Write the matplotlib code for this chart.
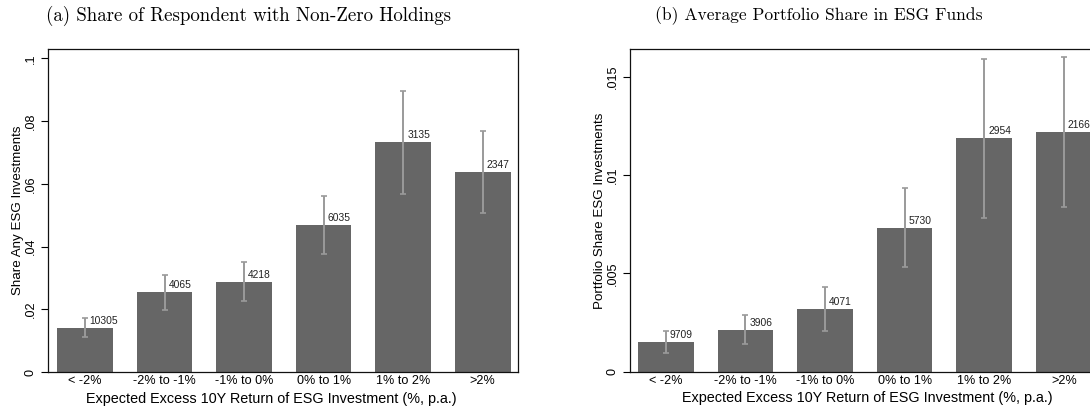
import matplotlib
matplotlib.use("Agg")
import matplotlib.pyplot as plt
from matplotlib.ticker import FixedLocator, FixedFormatter

# Return-expectation buckets
categories = ["< -2%", "-2% to -1%", "-1% to 0%", "0% to 1%", "1% to 2%", ">2%"]

# Panel (a): share of respondents with any ESG holdings
share_any = [0.0141, 0.0255, 0.0287, 0.0469, 0.0733, 0.0638]
share_any_lo = [0.0113, 0.0198, 0.0225, 0.0376, 0.0568, 0.0508]
share_any_hi = [0.0171, 0.0310, 0.0351, 0.0562, 0.0896, 0.0767]
n_any = [10305, 4065, 4218, 6035, 3135, 2347]
yticks_a = [0, 0.02, 0.04, 0.06, 0.08, 0.1]
yticklabels_a = ["0", ".02", ".04", ".06", ".08", ".1"]

# Panel (b): average portfolio share in ESG funds
port_share = [0.00151, 0.00212, 0.00317, 0.00731, 0.01188, 0.01219]
port_share_lo = [0.00093, 0.00139, 0.00205, 0.00531, 0.00780, 0.00837]
port_share_hi = [0.00208, 0.00287, 0.00429, 0.00932, 0.01590, 0.01599]
n_port = [9709, 3906, 4071, 5730, 2954, 2166]
yticks_b = [0, 0.005, 0.01, 0.015]
yticklabels_b = ["0", ".005", ".01", ".015"]

BAR = "#666666"
ERR = "#9a9a9a"
SANS = ["Liberation Sans", "DejaVu Sans"]

fig = plt.figure(figsize=(10.9, 4.08), dpi=100)
W, H = 1090.0, 408.0


def panel(rect, vals, lo, hi, ns, yt, ytl, ylim, xlim, ylabel, xlabel_x):
    ax = fig.add_axes(rect)
    x = list(range(len(categories)))
    ax.bar(x, vals, width=0.70, color=BAR, edgecolor="none", zorder=2)
    yerr = [[v - l for v, l in zip(vals, lo)], [h - v for v, h in zip(vals, hi)]]
    ax.errorbar(x, vals, yerr=yerr, fmt="none", ecolor=ERR, elinewidth=1.4,
                capsize=2.3, capthick=1.2, zorder=3)
    for xi, v, n in zip(x, vals, ns):
        ax.annotate(str(n), (xi, v), xytext=(3, 3), textcoords="offset points",
                    ha="left", va="baseline", fontsize=7.4, family=SANS,
                    color="#222222", zorder=4)
    ax.set_xlim(*xlim)
    ax.set_ylim(*ylim)
    ax.set_xticks(x)
    ax.set_xticklabels(categories, family=SANS, fontsize=9.1)
    ax.tick_params(axis="x", length=0, pad=2.5)
    ax.yaxis.set_major_locator(FixedLocator(yt))
    ax.yaxis.set_major_formatter(FixedFormatter(ytl))
    ax.tick_params(axis="y", length=5, width=0.8, pad=3, direction="out")
    for lab in ax.get_yticklabels():
        lab.set_rotation(90)
        lab.set_va("center")
        lab.set_ha("right")
        lab.set_family(SANS)
        lab.set_fontsize(9.1)
    for s in ax.spines.values():
        s.set_linewidth(0.9)
        s.set_color("#111111")
    ax.set_xlabel("Expected Excess 10Y Return of ESG Investment (%, p.a.)",
                  family=SANS, fontsize=10.4)
    ax.xaxis.set_label_coords(xlabel_x, -0.083, transform=ax.transAxes)
    ax.xaxis.label.set_va("center")
    ax.set_ylabel(ylabel, family=SANS, fontsize=9.6, labelpad=0.5)
    return ax


axa = panel([48 / W, 36 / H, 470 / W, 323 / H], share_any, share_any_lo, share_any_hi,
            n_any, yticks_a, yticklabels_a, (0, 0.103), (-0.465, 5.444),
            "Share Any ESG Investments", 0.4755)
axb = panel([630 / W, 36.3 / H, 469.6 / W, 322.7 / H], port_share, port_share_lo,
            port_share_hi, n_port, yticks_b, yticklabels_b, (0, 0.01641), (-0.45, 5.45),
            "Portfolio Share ESG Investments", 0.5047)

fig.text(248.5 / W, 1 - 15.5 / H, "(a) Share of Respondent with Non-Zero Holdings",
         ha="center", va="center", family="cmr10", fontsize=13.6)
fig.text(818.5 / W, 1 - 15.5 / H, "(b) Average Portfolio Share in ESG Funds",
         ha="center", va="center", family="cmr10", fontsize=12.6)

fig.savefig("out.png", dpi=100)
